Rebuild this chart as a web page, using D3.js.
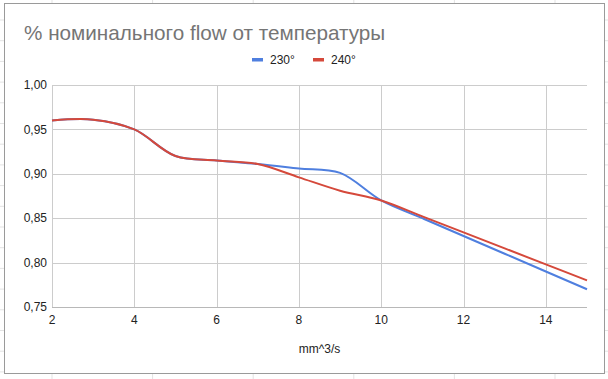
<!DOCTYPE html>
<html><head><meta charset="utf-8">
<script src="https://cdn.jsdelivr.net/npm/d3@7"></script>
<style>
html,body{margin:0;padding:0;background:#fff;}
svg{display:block;font-family:"Liberation Sans",Arial,sans-serif;}
</style></head>
<body>
<svg id="c" width="608" height="379"></svg>
<script>
const titleText = "% номинального flow от температуры";
const xAxisTitle = "mm^3/s";
const seriesNames = ["230°", "240°"];
const xValues = [2, 3, 4, 5, 6, 7, 8, 9, 10, 11, 12, 13, 14, 15];
const values230 = [0.96, 0.961, 0.95, 0.92, 0.915, 0.911, 0.906, 0.901, 0.87, 0.85, 0.83, 0.81, 0.79, 0.77];
const values240 = [0.96, 0.961, 0.95, 0.92, 0.915, 0.911, 0.896, 0.881, 0.87, 0.852, 0.834, 0.816, 0.798, 0.78];
const xTicks = [2, 4, 6, 8, 10, 12, 14];
const yTicks = [0.75, 0.80, 0.85, 0.90, 0.95, 1.00];
const colors = ["#4f7fdf", "#d5493b"];

const svg = d3.select("#c");
const W = 608, H = 379;

// spreadsheet background grid
const bg = svg.append("g");
for (let gx = 52; gx < W; gx += 100.6) bg.append("line").attr("x1", gx).attr("x2", gx).attr("y1", 0).attr("y2", H).attr("stroke", "#e3e3e3");
for (let gy = 20; gy < H; gy += 20.7) bg.append("line").attr("x1", 0).attr("x2", W).attr("y1", gy).attr("y2", gy).attr("stroke", "#e3e3e3");

// chart frame
svg.append("rect").attr("x", 4.5).attr("y", 3.5).attr("width", 600).attr("height", 370)
  .attr("fill", "#fff").attr("stroke", "#9a9a9a").attr("stroke-width", 1);

const pLeft = 52, pRight = 587, pTop = 85, pBottom = 307;
const x = d3.scaleLinear().domain([2, 15]).range([pLeft, pRight]);
const y = d3.scaleLinear().domain([0.75, 1.0]).range([pBottom, pTop]);

// grid
const g = svg.append("g");
g.selectAll(".hg").data(yTicks).join("line")
  .attr("x1", pLeft).attr("x2", pRight)
  .attr("y1", d => Math.round(y(d)) + 0.5).attr("y2", d => Math.round(y(d)) + 0.5)
  .attr("stroke", d => d === 0.75 ? "#b8b8b8" : "#cccccc");
g.selectAll(".vg").data(xTicks).join("line")
  .attr("x1", d => Math.round(x(d)) + 0.5).attr("x2", d => Math.round(x(d)) + 0.5)
  .attr("y1", pTop).attr("y2", pBottom)
  .attr("stroke", "#cccccc");

// axis labels
const fmt = d => d.toFixed(2).replace(".", ",");
g.selectAll(".yl").data(yTicks).join("text")
  .attr("x", 47).attr("y", d => y(d)).attr("dy", "0.35em")
  .attr("text-anchor", "end").attr("font-size", 12).attr("fill", "#222")
  .text(fmt);
g.selectAll(".xl").data(xTicks).join("text")
  .attr("x", d => x(d)).attr("y", 323.5)
  .attr("text-anchor", "middle").attr("font-size", 12).attr("fill", "#222")
  .text(d => d);

// lines
const line = d3.line().x((d, i) => x(xValues[i])).y(d => y(d)).curve(d3.curveCatmullRom.alpha(0.5));
[values230, values240].forEach((vals, i) => {
  svg.append("path").attr("d", line(vals)).attr("fill", "none")
    .attr("stroke", colors[i]).attr("stroke-width", 2).attr("stroke-linejoin", "round");
});

// title
svg.append("text").attr("x", 24).attr("y", 39.5).attr("font-size", 20.7).attr("fill", "#757575").text(titleText);

// legend
const lg = svg.append("g");
const legPos = [[252, 270], [313, 331]];
seriesNames.forEach((n, i) => {
  lg.append("rect").attr("x", legPos[i][0]).attr("y", 58).attr("width", 11).attr("height", 3.5).attr("fill", colors[i]);
  lg.append("text").attr("x", legPos[i][1]).attr("y", 64).attr("font-size", 12).attr("fill", "#222").text(n);
});

// x axis title
svg.append("text").attr("x", (pLeft + pRight) / 2).attr("y", 352.5).attr("text-anchor", "middle")
  .attr("font-size", 12).attr("fill", "#222").text(xAxisTitle);
</script>
</body></html>
